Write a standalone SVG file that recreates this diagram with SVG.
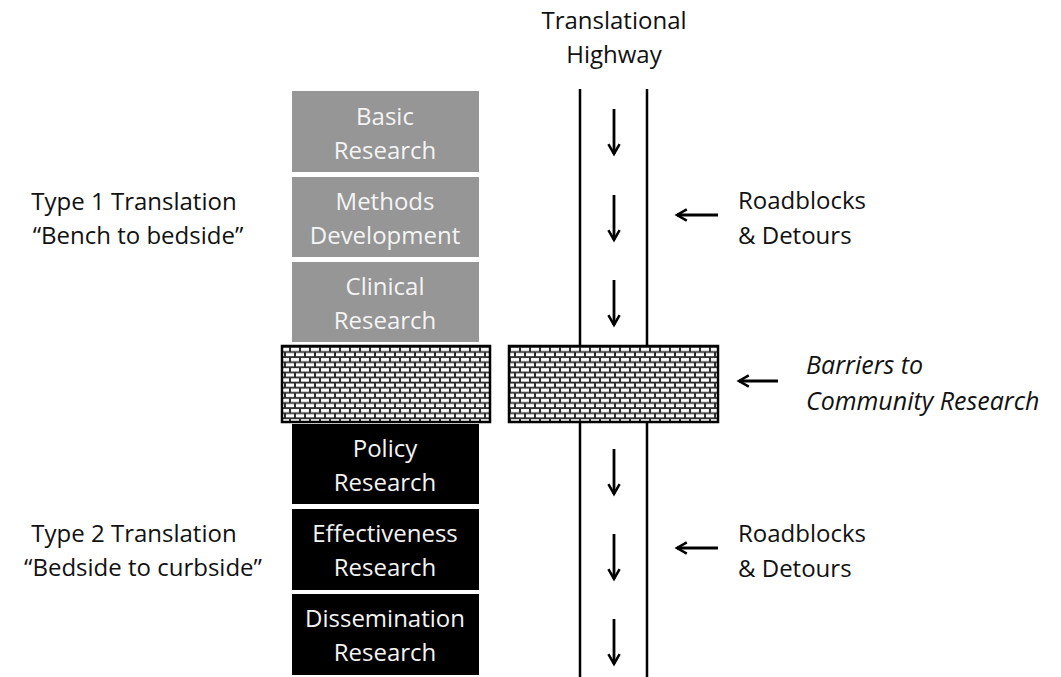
<svg xmlns="http://www.w3.org/2000/svg" width="1061" height="677" viewBox="0 0 1061 677">
<style>
text{font-family:"Open Sans","Liberation Sans",sans-serif;font-size:24px;text-anchor:middle}
.lbl{fill:#111}
.wt{fill:#f4f4f4}
.gray{fill:#969696}
.blk{fill:#000}
.road{stroke:#000;stroke-width:2.5;fill:none}
.arr{stroke:#000;stroke-width:2.8;fill:none;marker-end:url(#ah)}
.brick{fill:url(#bricks);stroke:#000;stroke-width:2.5}
</style>
<defs>
<marker id="ah" viewBox="0 0 10 10" refX="8" refY="5" markerWidth="5" markerHeight="5" orient="auto" markerUnits="strokeWidth">
<path d="M1,1 L8,5 L1,9" fill="none" stroke="#000" stroke-width="1.8"/>
</marker>
<pattern id="bricks" width="10" height="10.2" patternUnits="userSpaceOnUse">
<rect width="10" height="10.2" fill="#2e2e2e"/>
<rect x="1" y="1" width="8" height="3.3" fill="#fff"/>
<rect x="-4" y="6.1" width="8" height="3.3" fill="#fff"/>
<rect x="6" y="6.1" width="8" height="3.3" fill="#fff"/>
</pattern>
</defs>
<rect width="1061" height="677" fill="#fff"/>

<g id="title"><text class="lbl" x="614" y="29">Translational</text><text class="lbl" x="614" y="63">Highway</text></g>

<g id="basic"><rect class="gray" x="292" y="91" width="187" height="81"/><text class="wt" x="385" y="125">Basic</text><text class="wt" x="385" y="159">Research</text></g>
<g id="methods"><rect class="gray" x="292" y="177" width="187" height="80"/><text class="wt" x="385" y="210">Methods</text><text class="wt" x="385" y="244">Development</text></g>
<g id="clinical"><rect class="gray" x="292" y="262" width="187" height="80"/><text class="wt" x="385" y="295">Clinical</text><text class="wt" x="385" y="329">Research</text></g>

<g id="barrier-left"><rect class="brick" x="282" y="346" width="208" height="76"/></g>
<g id="barrier-right"><rect class="brick" x="509" y="346" width="209" height="76"/></g>

<g id="policy"><rect class="blk" x="292" y="424" width="187" height="80"/><text class="wt" x="385" y="457">Policy</text><text class="wt" x="385" y="491">Research</text></g>
<g id="effectiveness"><rect class="blk" x="292" y="509" width="187" height="81"/><text class="wt" x="385" y="542">Effectiveness</text><text class="wt" x="385" y="576">Research</text></g>
<g id="dissemination"><rect class="blk" x="292" y="594" width="187" height="81"/><text class="wt" x="385" y="627">Dissemination</text><text class="wt" x="385" y="661">Research</text></g>

<g id="type1"><text class="lbl" x="134" y="210">Type 1 Translation</text><text class="lbl" x="138" y="244">“Bench to bedside”</text></g>
<g id="type2"><text class="lbl" x="134" y="542">Type 2 Translation</text><text class="lbl" x="143" y="576">“Bedside to curbside”</text></g>

<g id="roadblocks1"><text class="lbl" x="738" y="209" style="text-anchor:start">Roadblocks</text><text class="lbl" x="738" y="244" style="text-anchor:start">&amp; Detours</text></g>
<g id="roadblocks2"><text class="lbl" x="738" y="542" style="text-anchor:start">Roadblocks</text><text class="lbl" x="738" y="577" style="text-anchor:start">&amp; Detours</text></g>
<g id="barriers-label"><text class="lbl" x="806" y="374" style="text-anchor:start;font-style:italic;font-size:25px">Barriers to</text><text class="lbl" x="806" y="410" style="text-anchor:start;font-style:italic;font-size:25px">Community Research</text></g>

<g id="connectors">
<line class="road" x1="580" y1="89" x2="580" y2="346"/>
<line class="road" x1="647" y1="89" x2="647" y2="346"/>
<line class="road" x1="580" y1="422" x2="580" y2="677"/>
<line class="road" x1="647" y1="422" x2="647" y2="677"/>
<line class="arr" x1="614" y1="109" x2="614" y2="154"/>
<line class="arr" x1="614" y1="195" x2="614" y2="240"/>
<line class="arr" x1="614" y1="280" x2="614" y2="325"/>
<line class="arr" x1="614" y1="449" x2="614" y2="494"/>
<line class="arr" x1="614" y1="534" x2="614" y2="579"/>
<line class="arr" x1="614" y1="619" x2="614" y2="664"/>
<line class="arr" x1="718" y1="215" x2="677" y2="215"/>
<line class="arr" x1="718" y1="548" x2="677" y2="548"/>
<line class="arr" x1="778" y1="381" x2="739" y2="381"/>
</g>
</svg>
